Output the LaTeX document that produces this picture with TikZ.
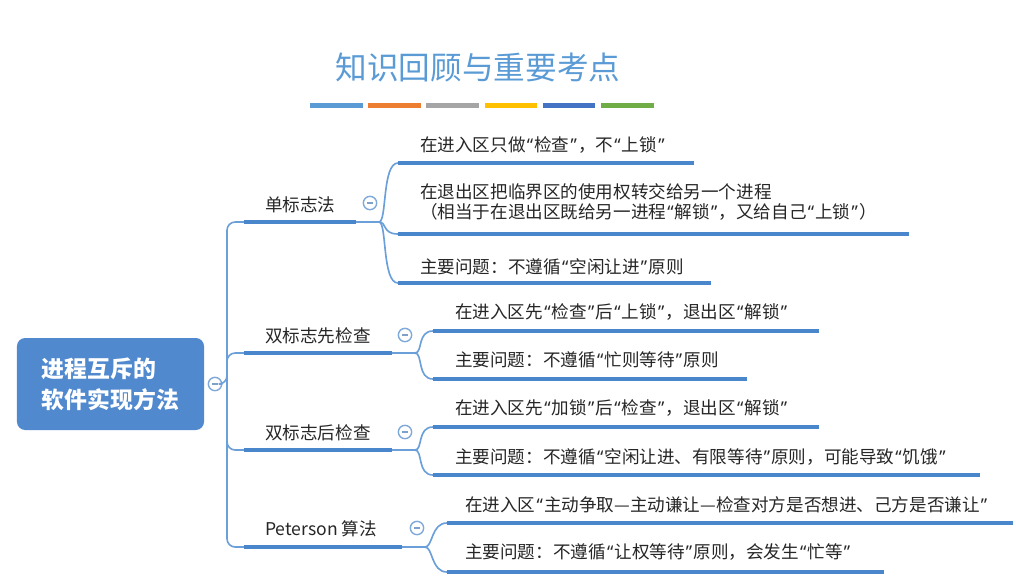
\documentclass[tikz,border=0pt]{standalone}
\usepackage{fontspec}
\setmainfont{Noto Sans CJK SC}
\newfontfamily\qfont{Noto Sans}
\newcommand\oqt{{\kern1pt\qfont “\kern1pt}}
\newcommand\cqt{{\kern1pt\qfont ”\kern1pt}}
\usepackage{tikz}
\usetikzlibrary{positioning}

\definecolor{titleblue}{HTML}{5B9BD5}
\definecolor{rootblue}{HTML}{5089CD}
\definecolor{lineblue}{HTML}{4A86CB}
\definecolor{curveblue}{HTML}{6A9FD9}
\definecolor{foldblue}{HTML}{7EA9DA}
\definecolor{textgray}{HTML}{262626}
\definecolor{barA}{HTML}{5B9BD5}
\definecolor{barB}{HTML}{ED7D31}
\definecolor{barC}{HTML}{A5A5A5}
\definecolor{barD}{HTML}{FFC000}
\definecolor{barE}{HTML}{4472C4}
\definecolor{barF}{HTML}{70AD47}

\tikzset{
  rootbox/.style={rectangle, rounded corners=7pt, fill=rootblue, text=white,
    minimum width=5.61cm, minimum height=2.76cm, align=left,
    font=\fontsize{19.5}{26.5}\selectfont\bfseries},
  branchlabel/.style={anchor=west, inner sep=0pt, text=textgray,
    font=\fontsize{15}{17}\selectfont},
  leaf/.style={anchor=west, inner sep=0pt, text=textgray, align=left,
    font=\fontsize{15}{17}\selectfont},
  thickline/.style={draw=lineblue, line width=3.6pt},
  thinline/.style={draw=curveblue, line width=1.4pt},
  fold/.style={circle, draw=foldblue, line width=1.2pt, fill=white,
    minimum size=0.4cm, inner sep=0pt,
    path picture={\draw[foldblue!80!gray, line width=1pt]
      ([xshift=-0.09cm]path picture bounding box.center) --
      ([xshift=0.09cm]path picture bounding box.center);}}
}

\begin{document}
\begin{tikzpicture}[x=0.03cm, y=-0.03cm]
    \useasboundingbox (0,0) rectangle (1016,583);
    % ---- Title ----
    \node[font=\fontsize{27}{30}\selectfont, text=titleblue] (title) at (478,68) {知识回顾与重要考点};
    \foreach \c [count=\i from 0] in {barA,barB,barC,barD,barE,barF}
      \fill[\c] (310+\i*58.2,103) rectangle +(52.5,5);
    % ---- Root ----
    \node[rootbox] (root) at (110.5,384) {进程互斥的\\软件实现方法};
    \node[fold] (rootc) at (215,384) {};
    \coordinate (hub) at (227,384);
    % ---- 单标志法 ----
    \begin{scope}
      \node[branchlabel] (b1) at (265,205) {单标志法};
      \node[fold] (b1c) at (370,203) {};
      \coordinate (b1s) at (244,222);
      \coordinate (b1e) at (356,222);
      \coordinate (b1f) at (379,222);
      \draw[thinline, rounded corners=7pt] (rootc.east) -- (hub) |- (b1s);
      \draw[thickline] (b1s) -- (b1e);
      \draw[thinline] (b1e) -- (b1f);
      \coordinate (l11s) at (398,163); \coordinate (l11e) at (694,163);
      \coordinate (l12s) at (398,234); \coordinate (l12e) at (909,234);
      \coordinate (l13s) at (398,283); \coordinate (l13e) at (711,283);
      \node[leaf] (l11) at (420,145) {在进入区只做\oqt 检查\cqt，不\oqt 上锁\cqt};
      \node[leaf] (l12) at (420,202) {在退出区把临界区的使用权转交给另一个进程\\（相当于在退出区既给另一进程\oqt 解锁\cqt，又给自己\oqt 上锁\cqt）};
      \node[leaf] (l13) at (420,267) {主要问题：不遵循\oqt 空闲让进\cqt 原则};
      \foreach \l in {l11,l12,l13} {
        \draw[thinline] (b1f) .. controls +(8,0) and +(-16,0) .. (\l s);
        \draw[thickline] (\l s) -- (\l e);
      }
    \end{scope}
    % ---- 双标志先检查 ----
    \begin{scope}
      \node[branchlabel] (b2) at (265,336) {双标志先检查};
      \node[fold] (b2c) at (405,335) {};
      \coordinate (b2s) at (244,353);
      \coordinate (b2e) at (392,353);
      \coordinate (b2f) at (415,353);
      \draw[thinline, rounded corners=7pt] (hub) |- (b2s);
      \draw[thickline] (b2s) -- (b2e);
      \draw[thinline] (b2e) -- (b2f);
      \coordinate (l21s) at (433,331); \coordinate (l21e) at (819,331);
      \coordinate (l22s) at (433,379); \coordinate (l22e) at (747,379);
      \node[leaf] (l21) at (455,312) {在进入区先\oqt 检查\cqt 后\oqt 上锁\cqt，退出区\oqt 解锁\cqt};
      \node[leaf] (l22) at (455,360) {主要问题：不遵循\oqt 忙则等待\cqt 原则};
      \foreach \l in {l21,l22} {
        \draw[thinline] (b2f) .. controls +(8,0) and +(-16,0) .. (\l s);
        \draw[thickline] (\l s) -- (\l e);
      }
    \end{scope}
    % ---- 双标志后检查 ----
    \begin{scope}
      \node[branchlabel] (b3) at (265,433) {双标志后检查};
      \node[fold] (b3c) at (405,432) {};
      \coordinate (b3s) at (244,450);
      \coordinate (b3e) at (392,450);
      \coordinate (b3f) at (415,450);
      \draw[thinline, rounded corners=7pt] (hub) |- (b3s);
      \draw[thickline] (b3s) -- (b3e);
      \draw[thinline] (b3e) -- (b3f);
      \coordinate (l31s) at (433,427); \coordinate (l31e) at (819,427);
      \coordinate (l32s) at (433,475); \coordinate (l32e) at (980,475);
      \node[leaf] (l31) at (455,408) {在进入区先\oqt 加锁\cqt 后\oqt 检查\cqt，退出区\oqt 解锁\cqt};
      \node[leaf] (l32) at (455,457) {主要问题：不遵循\oqt 空闲让进、有限等待\cqt 原则，可能导致\oqt 饥饿\cqt};
      \foreach \l in {l31,l32} {
        \draw[thinline] (b3f) .. controls +(8,0) and +(-16,0) .. (\l s);
        \draw[thickline] (\l s) -- (\l e);
      }
    \end{scope}
    % ---- Peterson 算法 ----
    \begin{scope}
      \node[branchlabel] (b4) at (265,529) {Peterson 算法};
      \node[fold] (b4c) at (417,528) {};
      \coordinate (b4s) at (244,547);
      \coordinate (b4e) at (402,547);
      \coordinate (b4f) at (425,547);
      \draw[thinline, rounded corners=7pt] (hub) |- (b4s);
      \draw[thickline] (b4s) -- (b4e);
      \draw[thinline] (b4e) -- (b4f);
      \coordinate (l41s) at (447,523); \coordinate (l41e) at (1013,523);
      \coordinate (l42s) at (447,572); \coordinate (l42e) at (884,572);
      \node[leaf] (l41) at (465,505) {在进入区\oqt 主动争取—主动谦让—检查对方是否想进、己方是否谦让\cqt};
      \node[leaf] (l42) at (465,552) {主要问题：不遵循\oqt 让权等待\cqt 原则，会发生\oqt 忙等\cqt};
      \foreach \l in {l41,l42} {
        \draw[thinline] (b4f) .. controls +(8,0) and +(-16,0) .. (\l s);
        \draw[thickline] (\l s) -- (\l e);
      }
    \end{scope}
\end{tikzpicture}
\end{document}
